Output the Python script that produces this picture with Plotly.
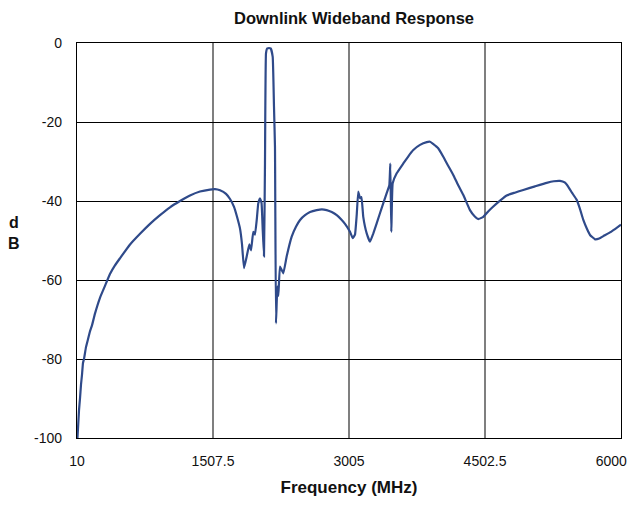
import plotly.graph_objects as go

freq_mhz = [15, 32, 43, 54, 65, 76, 87, 109, 131, 153, 175, 208, 263, 318, 373, 428, 483, 594,
            704, 814, 924, 1034, 1144, 1254, 1364, 1474, 1530, 1585, 1651, 1695, 1739, 1772,
            1805, 1827, 1849, 1879, 1907, 1926, 1951, 1970, 1989, 2006, 2025, 2042, 2055, 2069,
            2080, 2091, 2105, 2143, 2165, 2179, 2190, 2201, 2216, 2227, 2245, 2282, 2319, 2374,
            2421, 2466, 2521, 2576, 2649, 2706, 2759, 2815, 2870, 2920, 2961, 3016, 3046, 3071,
            3090, 3107, 3126, 3142, 3162, 3200, 3236, 3273, 3346, 3420, 3449, 3460, 3471, 3486,
            3530, 3603, 3655, 3713, 3787, 3861, 3897, 3934, 3985, 4043, 4095, 4153, 4205, 4264,
            4337, 4390, 4429, 4484, 4540, 4594, 4668, 4741, 4830, 4924, 5053, 5182, 5260, 5328,
            5380, 5420, 5460, 5512, 5548, 5585, 5626, 5659, 5714, 5760, 5805, 5890, 5970, 6000]
response_db = [-100, -93.0, -90.0, -86.5, -84.0, -81.0, -80.0, -77.0, -75.0, -73.0, -71.5, -68.5,
               -64.5, -61.5, -58.5, -56.3, -54.5, -51.0, -48.3, -45.8, -43.6, -41.6, -40.0, -38.6,
               -37.6, -37.1, -37.0, -37.3, -38.2, -39.5, -41.5, -44.0, -47.0, -51.0, -57.0, -54.0,
               -51.0, -52.5, -47.8, -48.5, -44.8, -40.6, -39.3, -40.5, -47.3, -54.0, -30.4, -2.6,
               -1.35, -1.35, -3.5, -16.0, -26.3, -71.0, -61.7, -64.0, -56.6, -58.3, -54.0, -49.0,
               -46.5, -44.8, -43.6, -42.8, -42.3, -42.1, -42.3, -42.8, -43.6, -44.7, -45.8, -47.8,
               -49.4, -48.5, -43.5, -37.6, -39.3, -39.0, -44.0, -48.2, -50.3, -48.2, -43.1, -38.0,
               -36.0, -30.5, -47.8, -35.5, -33.0, -30.5, -28.8, -27.1, -25.8, -25.1, -25.0, -25.6,
               -26.6, -28.8, -31.0, -33.4, -35.9, -38.5, -42.3, -43.9, -44.6, -44.0, -42.6, -41.4,
               -39.9, -38.6, -37.9, -37.2, -36.3, -35.4, -35.0, -34.9, -35.3, -36.4, -37.9, -39.7,
               -42.0, -44.8, -47.1, -48.6, -49.7, -49.5, -48.9, -47.8, -46.5, -46.0]

x_ticks = [10, 1507.5, 3005, 4502.5, 6000]
x_tick_text = ["10", "1507.5", "3005", "4502.5", "6000"]
y_ticks = [0, -20, -40, -60, -80, -100]
y_tick_text = ["0", "-20", "-40", "-60", "-80", "-100"]

font_fam = "Liberation Sans, Arial, sans-serif"

# The page body adds an 8px margin; the figure is offset by it and sized so the page
# does not overflow the 637x505 window.
OFF = 8
W, H = 637 - OFF, 505 - 2 * OFF

# keep the last x label inside the visible page by padding it on the right
shown_x_text = x_tick_text[:-1] + [x_tick_text[-1] + "\u00a0" * 5]

fig = go.Figure()
fig.add_trace(go.Scatter(
    x=freq_mhz, y=response_db, mode="lines",
    line=dict(color="#2F4A8A", width=2.2, shape="spline", smoothing=0.3),
    showlegend=False,
))

fig.update_layout(
    width=W, height=H,
    margin=dict(l=77 - OFF, r=W - (621 - OFF), t=43 - OFF, b=H - (438 - OFF), autoexpand=False),
    paper_bgcolor="white", plot_bgcolor="white",
    font=dict(family=font_fam, size=14, color="#111111"),
    title=dict(text="<b>Downlink Wideband Response</b>", x=(354 - OFF) / W, xanchor="center",
               y=1 - (18 - OFF) / H, yanchor="middle",
               font=dict(family=font_fam, size=16.5, color="#111111")),
    xaxis=dict(
        range=[10, 6000], tickvals=x_ticks, ticktext=shown_x_text, automargin=False,
        ticklabeloverflow="allow",
        showgrid=True, gridcolor="#7f7f7f", gridwidth=1.5,
        showline=True, linecolor="black", linewidth=1.3, mirror=True,
        ticks="", ticklabelstandoff=10, zeroline=False,
        title=dict(text="<b>Frequency (MHz)</b>", standoff=14,
                   font=dict(family=font_fam, size=17)),
    ),
    yaxis=dict(
        range=[-100, 0], tickvals=y_ticks, ticktext=y_tick_text, automargin=False,
        ticklabeloverflow="allow",
        showgrid=True, gridcolor="black", gridwidth=1.3,
        showline=True, linecolor="black", linewidth=1.3, mirror=True,
        ticks="", ticklabelstandoff=11, zeroline=False,
    ),
    annotations=[dict(text="<b>d<br>B</b>", xref="paper", yref="paper",
                      x=-(77 - 14) / 544, y=(438 - 233) / 395, xanchor="center", yanchor="middle",
                      showarrow=False, align="center",
                      font=dict(family=font_fam, size=16, color="#111111"))],
)

fig.write_html("out.html")
